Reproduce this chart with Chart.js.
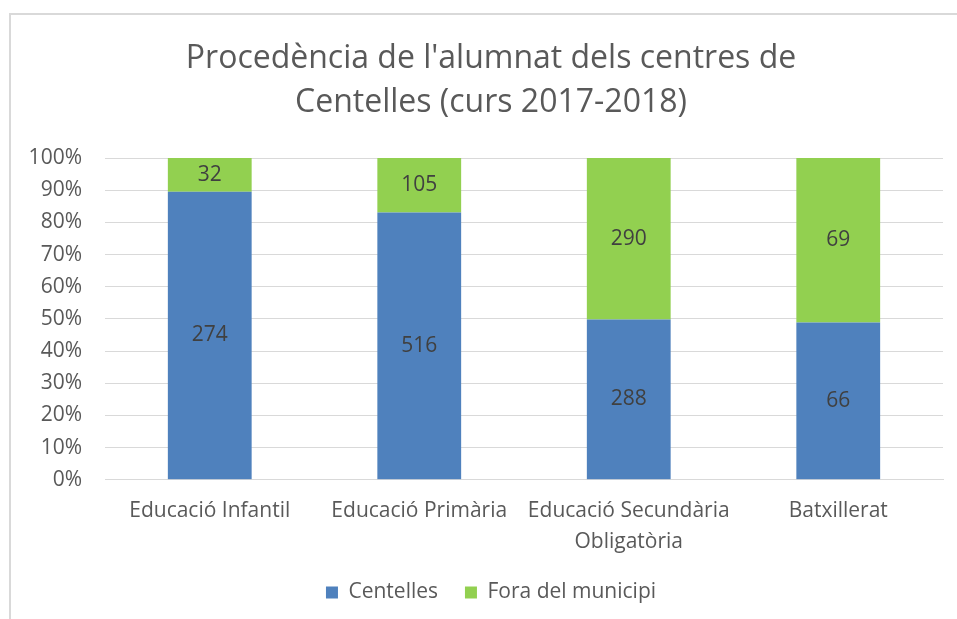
<!DOCTYPE html>
<html>
<head>
<meta charset="utf-8">
<script src="https://cdn.jsdelivr.net/npm/chart.js@4"></script>
<style>
  html, body { margin: 0; padding: 0; background: #fff; overflow: hidden; }
  #frame {
    position: absolute; left: 9px; top: 13px; width: 962px; height: 620px;
    border-left: 2px solid #d9d9d9; border-top: 2px solid #d9d9d9;
  }
  #wrap { position: absolute; left: 0; top: 0; width: 962px; height: 606px; }
</style>
</head>
<body>
<div id="frame"><div id="wrap"><canvas id="chart"></canvas></div></div>
<script>
// Categories and student counts
const categories = [
  "Educació Infantil",
  "Educació Primària",
  ["Educació Secundària", "Obligatòria"],
  "Batxillerat",
];
const centelles = [274, 516, 288, 66];
const foraMunicipi = [32, 105, 290, 69];
const yTicks = [0, 10, 20, 30, 40, 50, 60, 70, 80, 90, 100];

const FONT = "'Open Sans', sans-serif";

// Turn counts into share of each category's total (100% stacked)
const totals = centelles.map((v, i) => v + foraMunicipi[i]);
const toPct = (arr) => arr.map((v, i) => (v / totals[i]) * 100);

// Draw the raw counts in the middle of each bar segment
const valueLabels = {
  id: "valueLabels",
  afterDatasetsDraw(chart) {
    const ctx = chart.ctx;
    ctx.save();
    ctx.font = "21px " + FONT;
    ctx.fillStyle = "#404040";
    ctx.textAlign = "center";
    ctx.textBaseline = "middle";
    chart.data.datasets.forEach((ds, di) => {
      const meta = chart.getDatasetMeta(di);
      meta.data.forEach((bar, i) => {
        const p = bar.getCenterPoint();
        ctx.fillText(ds.raw[i], p.x, p.y);
      });
    });
    ctx.restore();
  },
};

// y labels stick out past the narrow axis box, so widen its clip area
const unclipY = {
  id: "unclipY",
  afterLayout(chart) {
    chart.scales.y.left = 0;
  },
};

const ctx = document.getElementById("chart").getContext("2d");
new Chart(ctx, {
  type: "bar",
  data: {
    labels: categories,
    datasets: [
      {
        label: "Centelles",
        data: toPct(centelles),
        raw: centelles,
        backgroundColor: "#4f81bd",
        barPercentage: 0.4,
        categoryPercentage: 1,
      },
      {
        label: "Fora del municipi",
        data: toPct(foraMunicipi),
        raw: foraMunicipi,
        backgroundColor: "#92d050",
        barPercentage: 0.4,
        categoryPercentage: 1,
      },
    ],
  },
  options: {
    responsive: true,
    maintainAspectRatio: false,
    animation: false,
    layout: { padding: { left: 28, right: 30, top: 8, bottom: 8 } },
    plugins: {
      title: {
        display: true,
        text: ["Procedència de l'alumnat dels centres de", "Centelles (curs 2017-2018)"],
        color: "#595959",
        font: { family: FONT, size: 32, weight: "normal", lineHeight: 1.375 },
        padding: { top: 14, bottom: 33 },
      },
      legend: {
        position: "bottom",
        labels: {
          color: "#595959",
          font: { family: FONT, size: 21 },
          boxWidth: 12,
          boxHeight: 12,
          padding: 16,
          // a little extra room after the first entry, like the original
          generateLabels: (chart) => {
            const items = Chart.defaults.plugins.legend.labels.generateLabels(chart);
            items[0].text += "  ";
            return items;
          },
        },
      },
      tooltip: { enabled: false },
    },
    scales: {
      x: {
        stacked: true,
        grid: { display: false },
        border: { color: "#d9d9d9", width: 1 },
        ticks: {
          color: "#595959",
          font: { family: FONT, size: 21, lineHeight: 1.48 },
          padding: 8,
          maxRotation: 0,
          minRotation: 0,
          autoSkip: false,
        },
      },
      y: {
        stacked: true,
        min: 0,
        max: 100,
        afterBuildTicks: (axis) => {
          axis.ticks = yTicks.map((v) => ({ value: v }));
        },
        afterFit: (axis) => {
          axis.width = 66;
        },
        grid: { color: "#d9d9d9", drawTicks: false },
        border: { display: false },
        ticks: {
          color: "#595959",
          font: { family: FONT, size: 21 },
          padding: 23,
          autoSkip: false,
          callback: (v) => v + "%",
        },
      },
    },
  },
  plugins: [valueLabels, unclipY],
});
</script>
</body>
</html>
